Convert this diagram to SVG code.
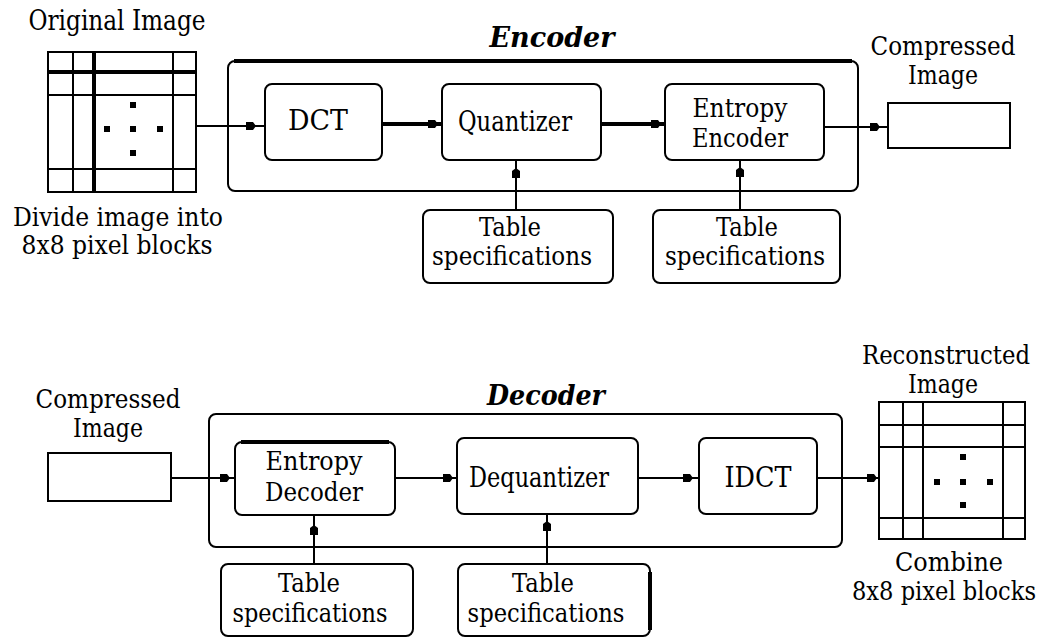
<svg xmlns="http://www.w3.org/2000/svg" xmlns:xlink="http://www.w3.org/1999/xlink" width="1053" height="638" viewBox="0 0 1053 638" font-family="DejaVu Serif, Liberation Serif, Noto Serif, serif">
<style>
.bg{fill:#fff}
.box{fill:#fff;stroke:#000;stroke-width:2}
.plain{fill:#fff;stroke:#000;stroke-width:2}
.ln{stroke:#000;stroke-width:2;fill:none}
.thk{stroke:#000;stroke-width:4;fill:none}
.dot{fill:#000}
.t{font-size:28px;text-anchor:middle;fill:#000}
.t2{font-size:26px;text-anchor:middle;fill:#000}
.ti{font-size:27px;font-weight:bold;font-style:italic;text-anchor:middle;fill:#000}
</style>
<defs>
<path id="ah" d="M-10,-4 h7 l3,4 l-3,4 h-7 z" fill="#000"/>
</defs>
<rect class="bg" x="0" y="0" width="1053" height="638"/>

<g id="encoder">
<rect class="box" x="228" y="61" width="630" height="130" rx="7"/>
<line class="thk" x1="234" y1="61" x2="852" y2="61"/>
<text class="ti" x="552" y="47" textLength="125" lengthAdjust="spacingAndGlyphs">Encoder</text>
</g>

<g id="decoder">
<rect class="box" x="209" y="414" width="633" height="133" rx="7"/>
<text class="ti" x="546" y="405" textLength="118" lengthAdjust="spacingAndGlyphs">Decoder</text>
</g>

<g id="connectors">
<line class="ln" x1="196" y1="126" x2="265" y2="126"/>
<line class="thk" x1="382" y1="124" x2="442" y2="124"/>
<line class="thk" x1="601" y1="124" x2="665" y2="124"/>
<line class="ln" x1="824" y1="127" x2="888" y2="127"/>
<line class="ln" x1="516" y1="210" x2="516" y2="160"/>
<line class="ln" x1="740" y1="210" x2="740" y2="160"/>
<line class="ln" x1="171" y1="478" x2="235" y2="478"/>
<line class="ln" x1="395" y1="478" x2="457" y2="478"/>
<line class="ln" x1="638" y1="478" x2="699" y2="478"/>
<line class="ln" x1="817" y1="478" x2="879" y2="478"/>
<line class="ln" x1="314" y1="564" x2="314" y2="515"/>
<line class="ln" x1="547" y1="564" x2="547" y2="514"/>
<use xlink:href="#ah" transform="translate(256,126)"/>
<use xlink:href="#ah" transform="translate(438,124)"/>
<use xlink:href="#ah" transform="translate(661,124)"/>
<use xlink:href="#ah" transform="translate(880,127)"/>
<use xlink:href="#ah" transform="translate(516,168) rotate(-90)"/>
<use xlink:href="#ah" transform="translate(740,167) rotate(-90)"/>
<use xlink:href="#ah" transform="translate(230,478)"/>
<use xlink:href="#ah" transform="translate(453,478)"/>
<use xlink:href="#ah" transform="translate(693,478)"/>
<use xlink:href="#ah" transform="translate(877,478)"/>
<use xlink:href="#ah" transform="translate(314,525) rotate(-90)"/>
<use xlink:href="#ah" transform="translate(547,521) rotate(-90)"/>
</g>

<g id="original-image">
<text class="t" x="117" y="30" font-size="24" textLength="177" lengthAdjust="spacingAndGlyphs">Original Image</text>
<rect class="plain" x="48" y="52" width="148" height="140"/>
<line class="ln" x1="73" y1="52" x2="73" y2="192"/>
<line class="thk" x1="94" y1="52" x2="94" y2="192"/>
<line class="ln" x1="173" y1="52" x2="173" y2="192"/>
<line class="thk" x1="48" y1="72" x2="196" y2="72"/>
<line class="ln" x1="48" y1="95" x2="196" y2="95"/>
<line class="ln" x1="48" y1="169" x2="196" y2="169"/>
<rect class="dot" x="130" y="102" width="6" height="6"/>
<rect class="dot" x="104" y="126" width="6" height="6"/>
<rect class="dot" x="130" y="126" width="6" height="6"/>
<rect class="dot" x="157" y="126" width="6" height="6"/>
<rect class="dot" x="130" y="150" width="6" height="6"/>
<text class="t2" x="118" y="226" textLength="210" lengthAdjust="spacingAndGlyphs">Divide image into</text>
<text class="t2" x="117" y="254" textLength="191" lengthAdjust="spacingAndGlyphs">8x8 pixel blocks</text>
</g>

<g id="dct">
<rect class="box" x="265" y="84" width="117" height="76" rx="7"/>
<text class="t" x="318" y="130" textLength="60" lengthAdjust="spacingAndGlyphs">DCT</text>
</g>

<g id="quantizer">
<rect class="box" x="442" y="84" width="159" height="76" rx="7"/>
<text class="t" x="515" y="131" textLength="114" lengthAdjust="spacingAndGlyphs">Quantizer</text>
</g>

<g id="entropy-encoder">
<rect class="box" x="665" y="84" width="159" height="76" rx="7"/>
<text class="t2" x="740" y="117" textLength="95" lengthAdjust="spacingAndGlyphs">Entropy</text>
<text class="t2" x="740" y="147" textLength="96" lengthAdjust="spacingAndGlyphs">Encoder</text>
</g>

<g id="compressed-out">
<text class="t2" x="943" y="55" textLength="145" lengthAdjust="spacingAndGlyphs">Compressed</text>
<text class="t2" x="943" y="84" textLength="70" lengthAdjust="spacingAndGlyphs">Image</text>
<rect class="plain" x="888" y="103" width="122" height="45"/>
</g>

<g id="table-spec-1">
<rect class="box" x="423" y="210" width="190" height="73" rx="7"/>
<text class="t2" x="510" y="236" textLength="62" lengthAdjust="spacingAndGlyphs">Table</text>
<text class="t2" x="512" y="265" textLength="160" lengthAdjust="spacingAndGlyphs">specifications</text>
</g>

<g id="table-spec-2">
<rect class="box" x="653" y="210" width="187" height="73" rx="7"/>
<text class="t2" x="747" y="236" textLength="62" lengthAdjust="spacingAndGlyphs">Table</text>
<text class="t2" x="745" y="265" textLength="160" lengthAdjust="spacingAndGlyphs">specifications</text>
</g>

<g id="compressed-in">
<text class="t2" x="108" y="408" textLength="145" lengthAdjust="spacingAndGlyphs">Compressed</text>
<text class="t2" x="108" y="437" textLength="70" lengthAdjust="spacingAndGlyphs">Image</text>
<rect class="plain" x="48" y="453" width="123" height="48"/>
</g>

<g id="entropy-decoder">
<rect class="box" x="235" y="442" width="160" height="73" rx="7"/>
<line class="thk" x1="241" y1="442" x2="389" y2="442"/>
<text class="t2" x="314" y="470" textLength="97" lengthAdjust="spacingAndGlyphs">Entropy</text>
<text class="t2" x="314" y="501" textLength="98" lengthAdjust="spacingAndGlyphs">Decoder</text>
</g>

<g id="dequantizer">
<rect class="box" x="457" y="438" width="181" height="76" rx="7"/>
<text class="t" x="539" y="487" textLength="140" lengthAdjust="spacingAndGlyphs">Dequantizer</text>
</g>

<g id="idct">
<rect class="box" x="699" y="438" width="118" height="76" rx="7"/>
<text class="t" x="758" y="487" textLength="67" lengthAdjust="spacingAndGlyphs">IDCT</text>
</g>

<g id="table-spec-3">
<rect class="box" x="221" y="564" width="192" height="72" rx="7"/>
<text class="t2" x="309" y="592" textLength="62" lengthAdjust="spacingAndGlyphs">Table</text>
<text class="t2" x="310" y="622" textLength="155" lengthAdjust="spacingAndGlyphs">specifications</text>
</g>

<g id="table-spec-4">
<rect class="box" x="458" y="564" width="192" height="72" rx="7"/>
<line class="thk" x1="650" y1="572" x2="650" y2="630"/>
<text class="t2" x="543" y="592" textLength="62" lengthAdjust="spacingAndGlyphs">Table</text>
<text class="t2" x="546" y="622" textLength="157" lengthAdjust="spacingAndGlyphs">specifications</text>
</g>

<g id="reconstructed-image">
<text class="t2" x="946" y="364" textLength="168" lengthAdjust="spacingAndGlyphs">Reconstructed</text>
<text class="t2" x="943" y="393" textLength="70" lengthAdjust="spacingAndGlyphs">Image</text>
<rect class="plain" x="879" y="402" width="146" height="137"/>
<line class="ln" x1="903" y1="402" x2="903" y2="539"/>
<line class="ln" x1="923" y1="402" x2="923" y2="539"/>
<line class="ln" x1="1003" y1="402" x2="1003" y2="539"/>
<line class="ln" x1="879" y1="425" x2="1025" y2="425"/>
<line class="ln" x1="879" y1="447" x2="1025" y2="447"/>
<line class="ln" x1="879" y1="518" x2="1025" y2="518"/>
<rect class="dot" x="960" y="454" width="6" height="6"/>
<rect class="dot" x="934" y="479" width="6" height="6"/>
<rect class="dot" x="960" y="479" width="6" height="6"/>
<rect class="dot" x="987" y="479" width="6" height="6"/>
<rect class="dot" x="960" y="502" width="6" height="6"/>
<text class="t2" x="949" y="571" textLength="108" lengthAdjust="spacingAndGlyphs">Combine</text>
<text class="t2" x="944" y="600" font-size="22" textLength="184" lengthAdjust="spacingAndGlyphs">8x8 pixel blocks</text>
</g>
</svg>
